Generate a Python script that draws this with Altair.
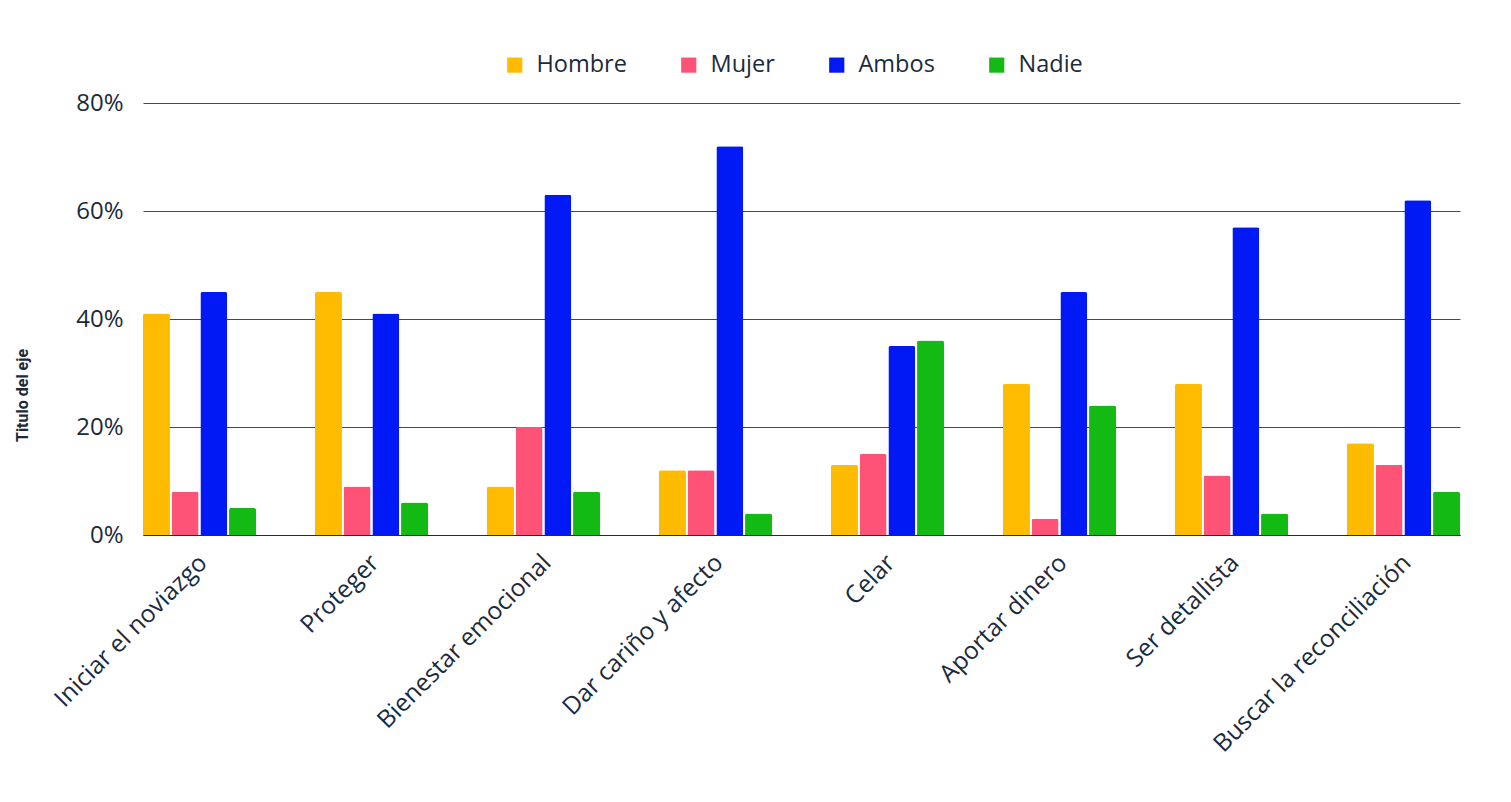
import altair as alt
import pandas as pd

categories = ["Iniciar el noviazgo", "Proteger", "Bienestar emocional", "Dar cariño y afecto",
              "Celar", "Aportar dinero", "Ser detallista", "Buscar la reconciliación"]
series = ["Hombre", "Mujer", "Ambos", "Nadie"]
hombre = [41, 45, 9, 12, 13, 28, 28, 17]
mujer = [8, 9, 20, 12, 15, 3, 11, 13]
ambos = [45, 41, 63, 72, 35, 45, 57, 62]
nadie = [5, 6, 8, 4, 36, 24, 4, 8]
colors = ["#FFBB00", "#FF5277", "#0019F5", "#14BA14"]

rows = []
for s, vals in zip(series, [hombre, mujer, ambos, nadie]):
    for c, v in zip(categories, vals):
        rows.append({"cat": c, "serie": s, "val": v / 100})
df = pd.DataFrame(rows)

FONT = "Open Sans"
TXT = "#1B2A3A"

chart = alt.Chart(df).mark_bar(cornerRadiusTopLeft=2, cornerRadiusTopRight=2).encode(
    x=alt.X("cat:N", sort=categories, title=None,
            scale=alt.Scale(paddingInner=0.343, paddingOuter=0),
            axis=alt.Axis(labelAngle=-45, labelAlign="right", labelBaseline="middle",
                          labelFontSize=24.5, labelPadding=24, labelOffset=4, ticks=False, grid=False,
                          domainColor="#1F2D3A", domainWidth=1.2, labelColor=TXT,
                          labelFont=FONT, labelLimit=400)),
    xOffset=alt.XOffset("serie:N", sort=series, scale=alt.Scale(paddingInner=0.06)),
    y=alt.Y("val:Q", title="Titulo del eje",
            scale=alt.Scale(domain=[0, 0.8]),
            axis=alt.Axis(format=".0%", values=[0, 0.2, 0.4, 0.6, 0.8], ticks=False, domain=False,
                          labelFontSize=24, labelPadding=20, labelColor=TXT, labelFont=FONT,
                          gridColor="#3E4A55", gridWidth=1,
                          titleFontSize=16, titleFontWeight="bold", titleColor=TXT,
                          titleFont="Roboto", titleAngle=-90, titleX=-121, titleY=292,
                          titleAlign="center", titleBaseline="middle")),
    color=alt.Color("serie:N", sort=series, scale=alt.Scale(domain=series, range=colors),
                    legend=alt.Legend(title=None, orient="none", direction="horizontal",
                                      legendX=360, legendY=-50,
                                      symbolType="square", symbolSize=230, symbolStrokeWidth=0,
                                      labelFontSize=23.5, labelFont=FONT, labelColor=TXT,
                                      columnPadding=50, labelOffset=10)),
).properties(
    width=1317, height=432,
    autosize=alt.AutoSizeParams(type="none"),
    padding={"left": 135, "top": 95, "right": 40, "bottom": 260},
).configure(background="white").configure_view(stroke=None)

chart.save("out.html", embed_options={"renderer": "svg", "actions": False})
